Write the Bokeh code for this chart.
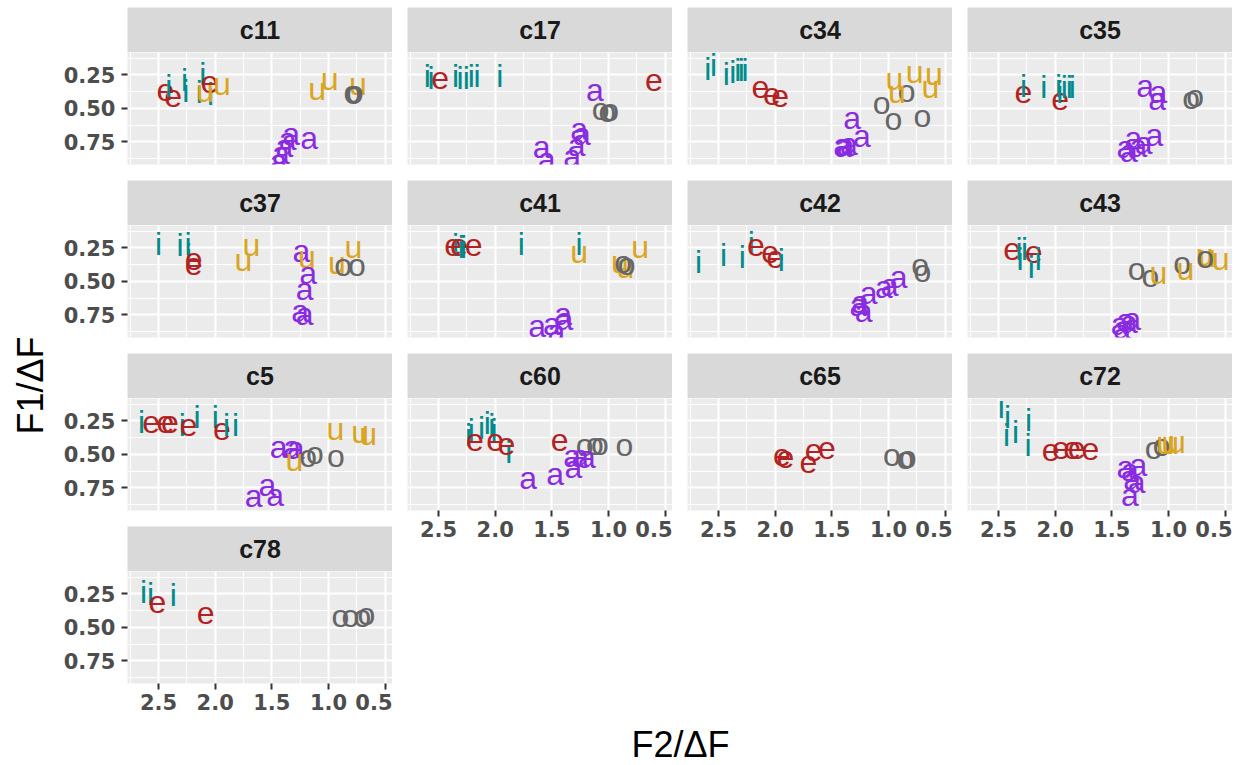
import math
from bokeh.plotting import figure
from bokeh.models import (Range1d, FixedTicker, Grid, LinearAxis, Label,
                          ColumnDataSource, NumeralTickFormatter, Spacer)
from bokeh.layouts import column, row
from bokeh.embed import file_html
from bokeh.resources import INLINE
from bokeh.core.properties import value

# ---------------- data (F2/dF on x, F1/dF on y) ----------------
C11_V = list("eeiiiiiieuuuuuoooaaaaaa")
C11_F2 = [2.44, 2.37, 2.41, 2.27, 2.26, 2.11, 2.14, 2.04, 2.05, 2.09, 1.94, 1.10, 0.99, 0.74, 0.79, 0.78, 0.77, 1.33, 1.17, 1.36, 1.39, 1.42, 1.44]
C11_F1 = [0.36, 0.41, 0.33, 0.29, 0.37, 0.24, 0.38, 0.39, 0.305, 0.37, 0.32, 0.355, 0.28, 0.32, 0.38, 0.385, 0.375, 0.69, 0.72, 0.73, 0.78, 0.83, 0.89]

C17_V = list("iieiiiiiieaoooaaaaaa")
C17_F2 = [2.60, 2.565, 2.485, 2.35, 2.31, 2.256, 2.21, 2.16, 1.96, 0.60, 1.12, 1.07, 1.01, 0.985, 1.26, 1.235, 1.28, 1.32, 1.59, 1.545]
C17_F1 = [0.255, 0.27, 0.27, 0.255, 0.27, 0.27, 0.255, 0.255, 0.255, 0.29, 0.36, 0.505, 0.52, 0.51, 0.655, 0.69, 0.77, 0.855, 0.79, 0.88]

C34_V = list("iiiiiiieeeaaaaaaoooouuuuu")
C34_F2 = [2.594, 2.544, 2.432, 2.374, 2.33, 2.30, 2.265, 2.13, 2.03, 1.956, 1.32, 1.235, 1.41, 1.38, 1.35, 1.40, 1.06, 0.956, 0.84, 0.70, 0.947, 0.926, 0.77, 0.60, 0.63]
C34_F1 = [0.205, 0.18, 0.24, 0.23, 0.21, 0.21, 0.21, 0.34, 0.39, 0.405, 0.57, 0.705, 0.77, 0.775, 0.765, 0.78, 0.46, 0.58, 0.37, 0.555, 0.28, 0.38, 0.23, 0.24, 0.34]

C35_V = list("eiiieiiiiaaaooaaaaaa")
C35_F2 = [2.28, 2.28, 2.10, 1.97, 1.956, 1.96, 1.92, 1.876, 1.85, 1.206, 1.09, 1.10, 0.80, 0.765, 1.31, 1.265, 1.35, 1.22, 1.124, 1.38]
C35_F1 = [0.38, 0.33, 0.34, 0.33, 0.43, 0.38, 0.34, 0.34, 0.34, 0.33, 0.38, 0.43, 0.42, 0.41, 0.72, 0.78, 0.82, 0.76, 0.70, 0.79]

C37_V = list("iiiieeuuauaaaauuoo")
C37_F2 = [2.5, 2.31, 2.24, 2.235, 2.19, 2.19, 1.68, 1.75, 1.24, 1.19, 1.18, 1.21, 1.25, 1.21, 0.78, 0.926, 0.87, 0.75]
C37_F1 = [0.2175, 0.23, 0.2175, 0.305, 0.33, 0.37, 0.23, 0.34, 0.27, 0.32, 0.44, 0.555, 0.72, 0.74, 0.24, 0.36, 0.38, 0.38]

C41_V = list("eieiieiiuuuuooaaaaa")
C41_F2 = [2.37, 2.35, 2.32, 2.30, 2.28, 2.19, 1.77, 1.26, 1.26, 0.72, 0.90, 0.85, 0.84, 0.87, 1.63, 1.50, 1.46, 1.40, 1.39]
C41_F1 = [0.23, 0.23, 0.23, 0.24, 0.245, 0.23, 0.2175, 0.2175, 0.28, 0.24, 0.355, 0.39, 0.37, 0.355, 0.83, 0.82, 0.87, 0.74, 0.78]

C42_V = list("iiiieeeiaaaaaaaoo")
C42_F2 = [2.676, 2.456, 2.29, 2.21, 2.17, 2.044, 2.0, 1.947, 1.25, 1.22, 1.176, 1.04, 0.99, 0.91, 1.265, 0.72, 0.70]
C42_F1 = [0.355, 0.305, 0.32, 0.21, 0.23, 0.28, 0.32, 0.34, 0.655, 0.72, 0.59, 0.54, 0.53, 0.47, 0.68, 0.38, 0.42]

C43_V = list("eiiieiiooouuuuuoaaaaa")
C43_F2 = [2.38, 2.32, 2.31, 2.27, 2.19, 2.21, 2.15, 1.28, 1.16, 0.88, 1.09, 0.85, 0.68, 0.66, 0.54, 0.676, 1.43, 1.38, 1.32, 1.41, 1.35]
C43_F1 = [0.255, 0.255, 0.33, 0.255, 0.28, 0.39, 0.33, 0.405, 0.46, 0.36, 0.44, 0.405, 0.30, 0.31, 0.33, 0.32, 0.82, 0.79, 0.78, 0.85, 0.80]

C5_V = list("ieeeieiieiiuuuaaauoooaaa")
C5_F2 = [2.65, 2.565, 2.44, 2.40, 2.29, 2.235, 2.16, 2.0, 1.94, 1.90, 1.82, 0.94, 0.72, 0.65, 1.44, 1.32, 1.29, 1.30, 1.18, 1.12, 0.935, 1.66, 1.54, 1.47]
C5_F1 = [0.26, 0.26, 0.255, 0.26, 0.28, 0.28, 0.22, 0.22, 0.31, 0.28, 0.28, 0.31, 0.33, 0.35, 0.445, 0.445, 0.45, 0.545, 0.51, 0.49, 0.51, 0.81, 0.73, 0.80]

C60_V = list("iiiiiiieeeeooooaaaaaa")
C60_F2 = [2.235, 2.21, 2.12, 2.07, 2.03, 2.01, 1.88, 2.18, 2.0, 1.90, 1.43, 1.21, 1.12, 1.075, 0.86, 1.71, 1.47, 1.31, 1.32, 1.25, 1.19]
C60_F1 = [0.3575, 0.32, 0.305, 0.2675, 0.28, 0.32, 0.48, 0.395, 0.395, 0.42, 0.39, 0.43, 0.42, 0.42, 0.43, 0.68, 0.645, 0.595, 0.51, 0.51, 0.52]

C65_V = list("eeeeeooo")
C65_F2 = [1.94, 1.91, 1.706, 1.66, 1.544, 0.97, 0.85, 0.83]
C65_F1 = [0.505, 0.5175, 0.555, 0.47, 0.455, 0.505, 0.53, 0.5175]

C72_V = list("iiiiiieeeeeoouuuaaaaaa")
C72_F2 = [2.476, 2.42, 2.43, 2.35, 2.235, 2.24, 2.04, 1.95, 1.85, 1.81, 1.69, 1.13, 1.06, 1.03, 0.985, 0.926, 1.38, 1.34, 1.265, 1.32, 1.28, 1.34]
C72_F1 = [0.145, 0.22, 0.3575, 0.33, 0.245, 0.43, 0.4675, 0.455, 0.455, 0.455, 0.4625, 0.455, 0.43, 0.4175, 0.4175, 0.405, 0.595, 0.62, 0.58, 0.6825, 0.705, 0.805]

C78_V = list("iiieeoooo")
C78_F2 = [2.633, 2.57, 2.37, 2.51, 2.085, 0.894, 0.806, 0.70, 0.665]
C78_F1 = [0.235, 0.25, 0.258, 0.31, 0.393, 0.415, 0.415, 0.415, 0.40]

SPEAKERS = ["c11", "c17", "c34", "c35", "c37", "c41", "c42", "c43",
            "c5", "c60", "c65", "c72", "c78"]
DATA = {
    "c11": (C11_V, C11_F2, C11_F1), "c17": (C17_V, C17_F2, C17_F1),
    "c34": (C34_V, C34_F2, C34_F1), "c35": (C35_V, C35_F2, C35_F1),
    "c37": (C37_V, C37_F2, C37_F1), "c41": (C41_V, C41_F2, C41_F1),
    "c42": (C42_V, C42_F2, C42_F1), "c43": (C43_V, C43_F2, C43_F1),
    "c5": (C5_V, C5_F2, C5_F1), "c60": (C60_V, C60_F2, C60_F1),
    "c65": (C65_V, C65_F2, C65_F1), "c72": (C72_V, C72_F2, C72_F1),
    "c78": (C78_V, C78_F2, C78_F1),
}
X_TICKS = [0.5, 1.0, 1.5, 2.0, 2.5]
X_MINOR = [0.75, 1.25, 1.75, 2.25, 2.75]
Y_TICKS = [0.25, 0.5, 0.75]
Y_MINOR = [0.125, 0.375, 0.625, 0.875]

COLORS = {"i": "#008B8B", "e": "#B22222", "a": "#8A2BE2", "o": "#666666", "u": "#DAA520"}

# ---------------- layout constants ----------------
NCOL = 4
FRAME_W, FRAME_H = 265, 112
STRIP_H = 45
GAP = 15
YLAB_W = 58
COL1_LEFT = 69
BOTTOM_AX = 36
ROW_GAP = 16
TOP_PAD = 7
PAGE_H = 765


def clear(p):
    p.center = []


def make_strip(name, ci):
    lb = COL1_LEFT if ci == 0 else GAP
    s = figure(width=lb + FRAME_W, height=STRIP_H, x_range=Range1d(0, 1), y_range=Range1d(0, 1),
               x_axis_location=None, y_axis_location=None, output_backend="svg",
               toolbar_location=None, min_border_left=lb, min_border_right=0,
               min_border_top=0, min_border_bottom=0)
    clear(s)
    s.background_fill_color = "#D9D9D9"
    s.outline_line_color = None
    s.add_layout(Label(x=0.5, y=0.5, text=name, text_align="center", text_baseline="middle",
                       text_font="Liberation Sans", text_font_style="bold",
                       text_font_size="25px", text_color="#1A1A1A"))
    return s


def make_panel(name, ci, left_axis, bottom_axis):
    lb = COL1_LEFT if ci == 0 else GAP
    bb = BOTTOM_AX if bottom_axis else ROW_GAP
    p = figure(width=lb + FRAME_W, height=FRAME_H + bb,
               x_range=Range1d(2.774, 0.435), y_range=Range1d(0.919, 0.083),
               x_axis_location=None, y_axis_location=None, output_backend="svg",
               toolbar_location=None, min_border_left=lb, min_border_right=0,
               min_border_top=0, min_border_bottom=bb)
    clear(p)
    p.background_fill_color = "#EBEBEB"
    p.outline_line_color = None
    xt = FixedTicker(ticks=X_TICKS, minor_ticks=X_MINOR)
    yt = FixedTicker(ticks=Y_TICKS, minor_ticks=Y_MINOR)
    for dim, tk in ((0, xt), (1, yt)):
        p.add_layout(Grid(dimension=dim, ticker=tk, grid_line_color="white", grid_line_width=2,
                          minor_grid_line_color="white", minor_grid_line_width=1), "center")
    axkw = dict(axis_line_color=None, major_tick_line_color="#333333", major_tick_line_width=2,
                major_tick_in=0, major_tick_out=6, minor_tick_line_color=None,
                major_label_text_font="DejaVu Sans", major_label_text_font_style="bold",
                major_label_text_font_size="21px", major_label_text_color="#4D4D4D")
    if left_axis:
        ax = LinearAxis(ticker=yt, formatter=NumeralTickFormatter(format="0.00"),
                        major_label_standoff=6, **axkw)
        p.add_layout(ax, "left")
    if bottom_axis:
        ax = LinearAxis(ticker=xt, formatter=NumeralTickFormatter(format="0.0"),
                        major_label_standoff=4, **axkw)
        p.add_layout(ax, "below")
    v, f2, f1 = DATA[name]
    src = ColumnDataSource(dict(x=f2, y=f1, t=v, c=[COLORS[k] for k in v]))
    p.text(x="x", y="y", text="t", text_color="c", source=src,
           text_font=value("Liberation Sans"), text_font_size="32px",
           text_align="center", text_baseline="middle")
    return p


n = len(SPEAKERS)
nrows = (n + NCOL - 1) // NCOL
cols = []
for ci in range(NCOL):
    names = [SPEAKERS[r * NCOL + ci] for r in range(nrows) if r * NCOL + ci < n]
    items = []
    for k, nm in enumerate(names):
        items.append(make_strip(nm, ci))
        items.append(make_panel(nm, ci, left_axis=(ci == 0), bottom_axis=(k == len(names) - 1)))
    cols.append(column(*items, spacing=0))

col1_h = nrows * STRIP_H + (nrows - 1) * (FRAME_H + ROW_GAP) + FRAME_H + BOTTOM_AX
total_w = YLAB_W + COL1_LEFT + FRAME_W + (NCOL - 1) * (GAP + FRAME_W)

ylab = figure(width=YLAB_W, height=col1_h, x_range=Range1d(0, YLAB_W), y_range=Range1d(0, col1_h),
              x_axis_location=None, y_axis_location=None, output_backend="svg",
              toolbar_location=None, min_border=0)
clear(ylab)
ylab.outline_line_color = None
ylab.background_fill_color = None
ylab.add_layout(Label(x=30, y=col1_h - (385 - TOP_PAD), text="F1/ΔF", angle=math.pi / 2,
                      text_align="center", text_baseline="middle", text_font="Liberation Sans",
                      text_font_size="36px", text_color="#000000"))

xlab_top = TOP_PAD + col1_h
xlab_h = PAGE_H - xlab_top
xlab = figure(width=total_w, height=xlab_h, x_range=Range1d(0, total_w), y_range=Range1d(0, xlab_h),
              x_axis_location=None, y_axis_location=None, output_backend="svg",
              toolbar_location=None, min_border=0)
clear(xlab)
xlab.outline_line_color = None
xlab.background_fill_color = None
xlab.add_layout(Label(x=680, y=xlab_h - (744 - xlab_top), text="F2/ΔF",
                      text_align="center", text_baseline="middle", text_font="Liberation Sans",
                      text_font_size="36px", text_color="#000000"))

layout = column(Spacer(height=TOP_PAD, width=10), row(ylab, *cols, spacing=0), xlab, spacing=0)

open("out.html", "w").write(file_html(layout, INLINE))
